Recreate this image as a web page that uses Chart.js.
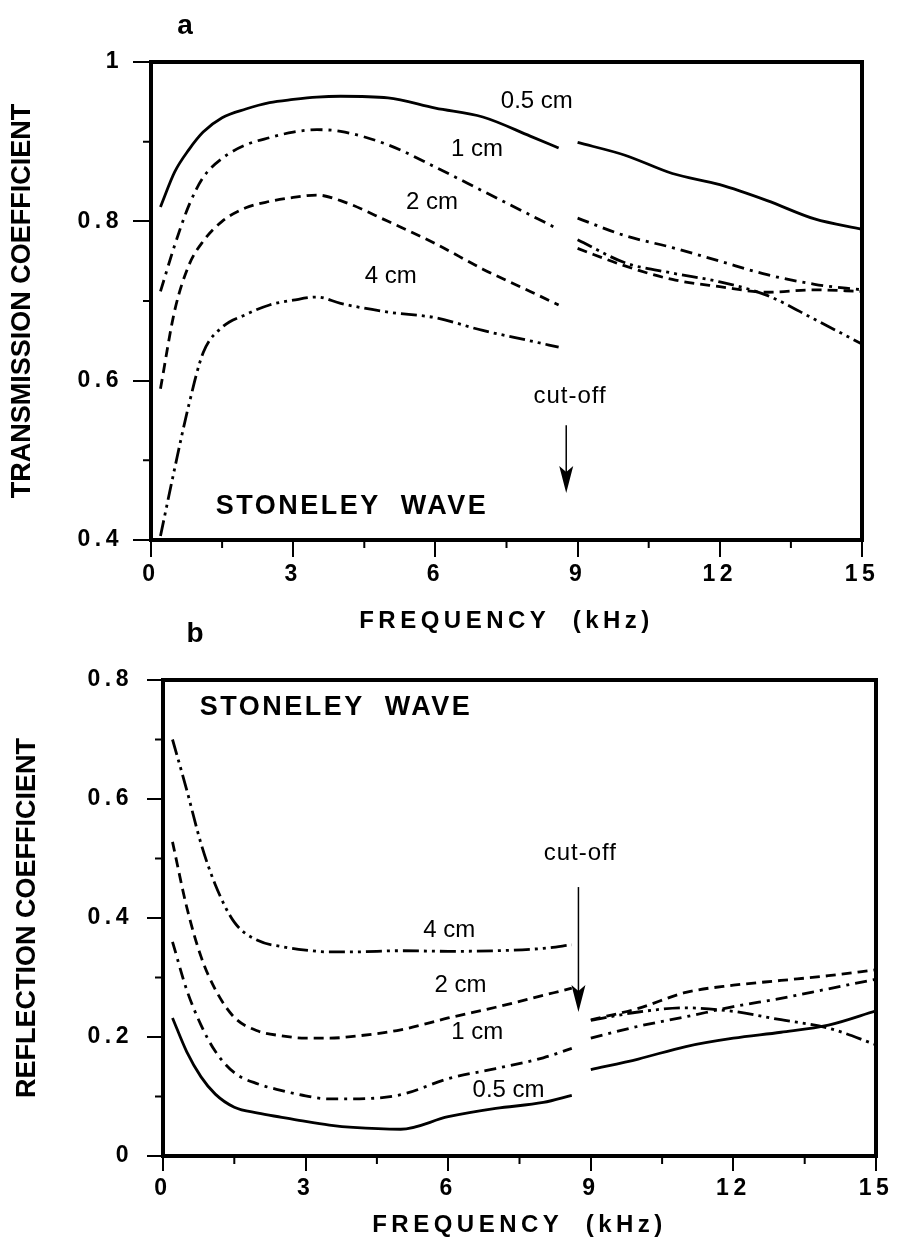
<!DOCTYPE html>
<html>
<head>
<meta charset="utf-8">
<script src="https://cdn.jsdelivr.net/npm/chart.js@4.4.1/dist/chart.umd.min.js"></script>
<style>
  body { margin: 0; background: #fff; }
  canvas { display: block; }
</style>
</head>
<body>
<canvas id="chartA" width="897" height="650"></canvas>
<canvas id="chartB" width="897" height="596"></canvas>
<script>
// frequency grid (kHz); the 8.75 slot is the gap at the cut-off
const freq = [0.2, 0.5, 0.8, 1.1, 1.5, 2, 2.5, 3, 3.5, 4, 5, 6, 7, 8, 8.6, 8.75, 9, 10, 11, 12, 13, 14, 15];

// a: transmission coefficient
const trans05 = [0.818, 0.862, 0.89, 0.912, 0.93, 0.941, 0.949, 0.953, 0.956, 0.957, 0.955, 0.942, 0.931, 0.907, 0.892, null, 0.899, 0.883, 0.86, 0.846, 0.826, 0.803, 0.79];
const trans1 = [0.712, 0.77, 0.82, 0.855, 0.879, 0.896, 0.905, 0.912, 0.915, 0.913, 0.896, 0.868, 0.838, 0.808, 0.79, null, 0.804, 0.782, 0.767, 0.75, 0.733, 0.721, 0.714];
const trans2 = [0.59, 0.688, 0.745, 0.775, 0.8, 0.817, 0.825, 0.83, 0.833, 0.826, 0.8, 0.772, 0.74, 0.712, 0.695, null, 0.766, 0.744, 0.727, 0.718, 0.711, 0.714, 0.712];
const trans4 = [0.405, 0.49, 0.57, 0.635, 0.667, 0.683, 0.695, 0.701, 0.705, 0.697, 0.686, 0.679, 0.663, 0.65, 0.642, null, 0.777, 0.748, 0.735, 0.724, 0.707, 0.677, 0.646];

// b: reflection coefficient
const refl05 = [0.232, 0.175, 0.133, 0.104, 0.082, 0.072, 0.065, 0.058, 0.052, 0.048, 0.045, 0.066, 0.08, 0.09, 0.102, null, 0.145, 0.163, 0.184, 0.198, 0.208, 0.22, 0.244];
const refl1 = [0.36, 0.279, 0.22, 0.176, 0.14, 0.121, 0.11, 0.101, 0.096, 0.096, 0.103, 0.13, 0.147, 0.165, 0.181, null, 0.198, 0.218, 0.234, 0.251, 0.265, 0.281, 0.297];
const refl2 = [0.528, 0.418, 0.335, 0.28, 0.233, 0.21, 0.202, 0.198, 0.198, 0.201, 0.212, 0.232, 0.25, 0.27, 0.282, null, 0.229, 0.248, 0.275, 0.287, 0.295, 0.303, 0.313];
const refl4 = [0.7, 0.615, 0.525, 0.456, 0.393, 0.362, 0.352, 0.346, 0.343, 0.343, 0.345, 0.344, 0.345, 0.349, 0.355, null, 0.228, 0.242, 0.249, 0.243, 0.229, 0.215, 0.187];

const minorX = [1.5, 4.5, 7.5, 10.5, 13.5];
const minorYa = [0.5, 0.7, 0.9];
const minorYb = [0.1, 0.3, 0.5, 0.7];

const family = "'Liberation Sans', Arial, Helvetica, sans-serif";
Chart.defaults.font.family = family;
Chart.defaults.color = '#000';

const tickFont = { size: 23, weight: 'bold' };
const xTitleFont = { size: 24, weight: 'bold' };
const yTitleFont = { size: 27, weight: 'bold' };
const noteFont = '24px ' + family;
const waveFont = 'bold 27px ' + family;

function series(values) {
  return freq.map((f, i) => ({ x: f, y: values[i] }));
}

function line(label, values, dash) {
  return {
    label: label,
    data: series(values),
    borderColor: '#000',
    borderWidth: 2.8,
    borderDash: dash,
    pointRadius: 0,
    cubicInterpolationMode: 'monotone',
    spanGaps: false,
    fill: false
  };
}

// wide lettering for ticks and the x title, plain for the rest
const spacing = {
  id: 'spacing',
  beforeDraw(chart) { chart.ctx.letterSpacing = '4.5px'; },
  beforeDatasetsDraw(chart) { chart.ctx.letterSpacing = '0px'; }
};

const frame = {
  id: 'frame',
  afterDraw(chart, args, opts) {
    const { ctx, chartArea: a, scales: { x, y } } = chart;
    ctx.save();
    ctx.letterSpacing = '0px';
    ctx.strokeStyle = '#000';
    ctx.fillStyle = '#000';
    ctx.lineWidth = 4;
    ctx.strokeRect(a.left, a.top, a.right - a.left, a.bottom - a.top);

    ctx.lineWidth = 2;
    ctx.beginPath();
    opts.minorX.forEach(v => {
      const px = x.getPixelForValue(v);
      ctx.moveTo(px, a.bottom);
      ctx.lineTo(px, a.bottom + 8);
    });
    opts.minorY.forEach(v => {
      const py = y.getPixelForValue(v);
      ctx.moveTo(a.left - 8, py);
      ctx.lineTo(a.left, py);
    });
    ctx.stroke();

    // cut-off arrow
    const ax = x.getPixelForValue(opts.arrow.x);
    const y1 = y.getPixelForValue(opts.arrow.from);
    const y2 = y.getPixelForValue(opts.arrow.to);
    ctx.lineWidth = 1.5;
    ctx.beginPath();
    ctx.moveTo(ax, y1);
    ctx.lineTo(ax, y2 - 20);
    ctx.stroke();
    ctx.beginPath();
    ctx.moveTo(ax, y2);
    ctx.lineTo(ax - 7, y2 - 27);
    ctx.lineTo(ax, y2 - 21);
    ctx.lineTo(ax + 7, y2 - 27);
    ctx.closePath();
    ctx.fill();

    ctx.textAlign = 'center';
    ctx.textBaseline = 'middle';
    opts.notes.forEach(n => {
      ctx.font = n.font;
      ctx.letterSpacing = n.spacing || '0px';
      ctx.fillText(n.text, x.getPixelForValue(n.x), y.getPixelForValue(n.y));
    });
    ctx.letterSpacing = '0px';
    ctx.font = 'bold 28px ' + family;
    (opts.tags || []).forEach(t => ctx.fillText(t.text, t.px, t.py));
    ctx.restore();
  }
};

function axes(o) {
  return {
    x: {
      type: 'linear', min: 0, max: 15,
      afterFit: s => { s.height = o.xHeight; },
      ticks: { stepSize: 3, font: tickFont, color: '#000', padding: 4, maxRotation: 0 },
      grid: { drawOnChartArea: false, tickLength: o.xTick, color: '#000', lineWidth: 2 },
      border: { display: false },
      title: { display: true, text: 'FREQUENCY  (kHz)', font: xTitleFont, color: '#000', padding: { top: 0, bottom: o.xTitlePad } }
    },
    y: {
      min: o.yMin, max: o.yMax,
      afterFit: s => { s.width = o.yWidth; },
      ticks: {
        stepSize: 0.2, font: tickFont, color: '#000', padding: o.yPad,
        callback: v => (v === 0 || v === 1) ? String(v) : v.toFixed(1)
      },
      grid: { drawOnChartArea: false, tickLength: o.yTick, color: '#000', lineWidth: 2, z: 1 },
      border: { display: false },
      title: { display: true, text: o.yTitle, font: yTitleFont, color: '#000', padding: { top: o.yTitlePad, bottom: 0 } }
    }
  };
}

const dashed = [10, 6];
const dashDot = [12, 6, 3, 6];
const dashDotDot = [16, 5, 3, 5, 3, 5];

new Chart(document.getElementById('chartA'), {
  type: 'line',
  data: {
    datasets: [
      line('0.5 cm', trans05, []),
      line('1 cm', trans1, dashDot),
      line('2 cm', trans2, dashed),
      line('4 cm', trans4, dashDotDot)
    ]
  },
  options: {
    responsive: false,
    animation: false,
    devicePixelRatio: 1,
    layout: { padding: { top: 62, right: 35, left: 0, bottom: 0 } },
    plugins: {
      legend: { display: false },
      tooltip: { enabled: false },
      frame: {
        minorX: minorX,
        minorY: minorYa,
        arrow: { x: 8.76, from: 0.544, to: 0.459 },
        notes: [
          { text: '0.5 cm', x: 8.14, y: 0.95, font: noteFont },
          { text: '1 cm', x: 6.88, y: 0.89, font: noteFont },
          { text: '2 cm', x: 5.93, y: 0.824, font: noteFont },
          { text: '4 cm', x: 5.06, y: 0.731, font: noteFont },
          { text: 'cut-off', x: 8.84, y: 0.58, font: noteFont, spacing: '1px' },
          { text: 'STONELEY  WAVE', x: 4.24, y: 0.4425, font: waveFont, spacing: '2.5px' }
        ],
        tags: [
          { text: 'a', px: 185, py: 26 },
          { text: 'b', px: 195, py: 634 }
        ]
      }
    },
    scales: axes({
      xHeight: 110, xTick: 17, xTitlePad: 14,
      yMin: 0.4, yMax: 1, yWidth: 151, yTick: 18, yPad: 10, yTitlePad: 6,
      yTitle: 'TRANSMISSION COEFFICIENT'
    })
  },
  plugins: [spacing, frame]
});

new Chart(document.getElementById('chartB'), {
  type: 'line',
  data: {
    datasets: [
      line('0.5 cm', refl05, []),
      line('1 cm', refl1, dashDot),
      line('2 cm', refl2, dashed),
      line('4 cm', refl4, dashDotDot)
    ]
  },
  options: {
    responsive: false,
    animation: false,
    devicePixelRatio: 1,
    layout: { padding: { top: 30, right: 21, left: 0, bottom: 0 } },
    plugins: {
      legend: { display: false },
      tooltip: { enabled: false },
      frame: {
        minorX: minorX,
        minorY: minorYb,
        arrow: { x: 8.74, from: 0.452, to: 0.242 },
        notes: [
          { text: '4 cm', x: 6.02, y: 0.38, font: noteFont },
          { text: '2 cm', x: 6.26, y: 0.287, font: noteFont },
          { text: '1 cm', x: 6.61, y: 0.207, font: noteFont },
          { text: '0.5 cm', x: 7.27, y: 0.111, font: noteFont },
          { text: 'cut-off', x: 8.78, y: 0.509, font: noteFont, spacing: '1px' },
          { text: 'STONELEY  WAVE', x: 3.64, y: 0.753, font: waveFont, spacing: '2.5px' }
        ]
      }
    },
    scales: axes({
      xHeight: 90, xTick: 15, xTitlePad: 6,
      yMin: 0, yMax: 0.8, yWidth: 163, yTick: 16, yPad: 14, yTitlePad: 11,
      yTitle: 'REFLECTION COEFFICIENT'
    })
  },
  plugins: [spacing, frame]
});
</script>
</body>
</html>
